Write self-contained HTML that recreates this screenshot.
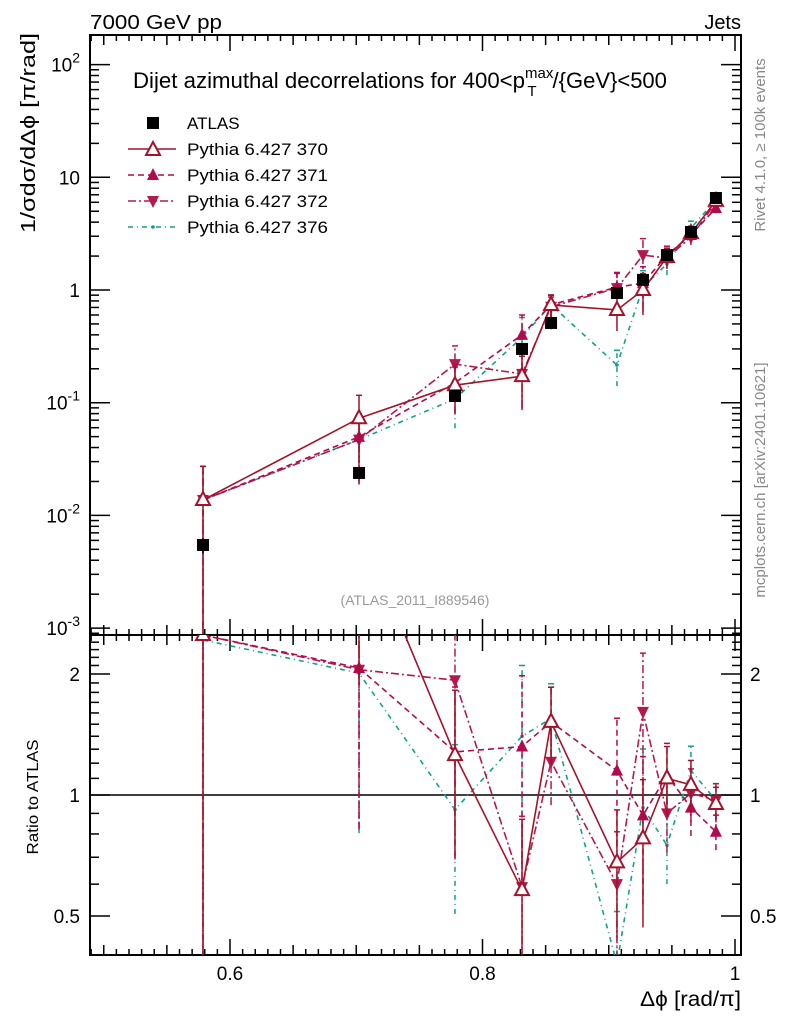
<!DOCTYPE html>
<html><head><meta charset="utf-8"><style>
html,body{margin:0;padding:0;background:#fff;overflow:hidden;width:786px;height:1024px;}
svg{display:block;}
svg text{font-family:"Liberation Sans",sans-serif;}
</style></head><body>
<svg id="c" width="786" height="1024" xmlns="http://www.w3.org/2000/svg">
<text x="90" y="29" font-size="20" textLength="132" lengthAdjust="spacingAndGlyphs">7000 GeV pp</text>
<text x="741" y="29" font-size="20" text-anchor="end">Jets</text>
<text x="133" y="88" font-size="22"><tspan textLength="392" lengthAdjust="spacingAndGlyphs">Dijet azimuthal decorrelations for 400&lt;p</tspan><tspan dy="-10" font-size="15">max</tspan><tspan dx="-26" dy="18" font-size="15">T</tspan><tspan dx="16" dy="-8">/{GeV}&lt;500</tspan></text>
<text transform="translate(765,145) rotate(-90)" font-size="15" fill="#888" text-anchor="middle">Rivet 4.1.0, ≥ 100k events</text>
<text transform="translate(765,480) rotate(-90)" font-size="15" fill="#888" text-anchor="middle">mcplots.cern.ch [arXiv:2401.10621]</text>
<text x="415" y="605" font-size="14" fill="#999" text-anchor="middle">(ATLAS_2011_I889546)</text>
<text transform="translate(35,133) rotate(-90)" font-size="20" text-anchor="middle" textLength="200" lengthAdjust="spacingAndGlyphs">1/σdσ/dΔϕ [π/rad]</text>
<text transform="translate(38,797) rotate(-90)" font-size="16" text-anchor="middle" textLength="115" lengthAdjust="spacingAndGlyphs">Ratio to ATLAS</text>
<text x="741" y="1006" font-size="21" text-anchor="end" textLength="101" lengthAdjust="spacingAndGlyphs">Δϕ [rad/π]</text>
<g id="main"></g>
<g id="ratio"></g>
<g id="legend"></g>
</svg>
<script>
const xs = [0.5786,0.7022,0.7782,0.8313,0.8543,0.9065,0.9271,0.9461,0.9651,0.9849];
const atlas = [0.00546,0.0238,0.1147,0.30,0.51,0.94,1.23,2.04,3.27,6.55];
const atlasErr = [0.15,0.1,0.12,0.1,0.12,0.08,0.08,0.06,0.05,0.04];
const s370 = [0.0137,0.0727,0.143,0.172,0.736,0.665,1.0,1.96,3.2,6.17];
const s371 = [0.0137,0.0498,0.15,0.40,0.74,1.06,1.15,2.04,3.08,5.34];
const s372 = [0.0137,0.047,0.22,0.18,0.71,1.04,2.04,1.92,2.95,6.0];
const s376 = [0.0137,0.047,0.108,0.38,0.74,0.216,1.06,1.70,3.55,6.3];
const errRel = [0.99,0.6,0.45,0.5,0.22,0.35,0.4,0.2,0.15,0.1];
const r370 = [2.5,4.7,1.257,0.58,1.52,0.68,0.78,1.10,1.06,0.95];
const r371 = [2.5,2.07,1.28,1.32,1.52,1.15,0.89,1.12,0.93,0.81];
const r372 = [2.5,2.05,1.93,0.59,1.21,0.60,1.61,0.90,1.01,0.97];
const r376 = [2.43,2.01,0.92,1.40,1.55,0.38,0.93,0.75,1.15,0.97];
const xTickLabels = ["0.6","0.8","1"];
const yTickLabels = ["10^-3","10^-2","10^-1","1","10","10^2"];
const rTickLabels = ["0.5","1","2"];

const NS="http://www.w3.org/2000/svg";
const L=90,R=741,T=35,M=635,B=955;
const X=v=>230+(v-0.6)*1262.5;
const Y=v=>290-Math.log10(v)*112.7;
const RY=v=>795-Math.log2(v)*121;
function mk(p,tag,a){const e=document.createElementNS(NS,tag);for(const k in a)e.setAttribute(k,a[k]);p.appendChild(e);return e;}
const main=document.getElementById('main'),ratio=document.getElementById('ratio'),leg=document.getElementById('legend');
const svg=document.getElementById('c');
const defs=mk(svg,'defs',{});
const c1=mk(defs,'clipPath',{id:'cm'});mk(c1,'rect',{x:L,y:T,width:R-L,height:M-T});
const c2=mk(defs,'clipPath',{id:'cr'});mk(c2,'rect',{x:L,y:M,width:R-L,height:B-M});
let f=mk(main,'rect',{x:L,y:T,width:R-L,height:M-T,fill:'none',stroke:'#000','stroke-width':2});


f=mk(ratio,'rect',{x:L,y:M,width:R-L,height:B-M,fill:'none',stroke:'#000','stroke-width':2});


for(let i=0;i<=52;i++){const v=0.49+i*0.01;if(v>1.004)break;const px=X(v);if(px<L)continue;
 const maj=Math.abs(Math.round(v*20)-v*20)<1e-6;const big=Math.abs(Math.round(v*5)-v*5)<1e-6;
 const len=big?16:(maj?10:6);
 for(const [y0,d] of [[T,1],[M,-1],[M,1],[B,-1]]){mk(main,'line',{x1:px,x2:px,y1:y0,y2:y0+d*len,stroke:'#000','stroke-width':1.5});}}
xTickLabels.forEach(s=>{const t=mk(ratio,'text',{x:X(parseFloat(s)),y:980,'font-size':19,'text-anchor':'middle'});t.textContent=s;
 
 });
for(let d=-4;d<=2;d++){for(let m=1;m<10;m++){const v=m*Math.pow(10,d);const py=Y(v);if(py<T||py>M)continue;const len=m==1?20:9;
 mk(main,'line',{x1:L,x2:L+len,y1:py,y2:py,stroke:'#000','stroke-width':1.5});mk(main,'line',{x1:R,x2:R-len,y1:py,y2:py,stroke:'#000','stroke-width':1.5});}}
yTickLabels.forEach((s,i)=>{const py=Y(Math.pow(10,i-3));const t=mk(main,'text',{x:80,y:py+7,'font-size':19,'text-anchor':'end'});
 
 
 const p=s.split('^');if(p.length==1)t.textContent=s;else{t.textContent='10';const ts=mk(t,'tspan',{dy:-9,'font-size':14});ts.textContent=p[1];}});
for(let v=0.4;v<=2.6;v+=0.1){const py=RY(v);if(py<M||py>B)continue;const big=[0.5,1,2].some(q=>Math.abs(q-v)<1e-6);const len=big?20:9;
 mk(ratio,'line',{x1:L,x2:L+len,y1:py,y2:py,stroke:'#000','stroke-width':1.5});mk(ratio,'line',{x1:R,x2:R-len,y1:py,y2:py,stroke:'#000','stroke-width':1.5});}
rTickLabels.forEach(s=>{const py=RY(parseFloat(s))+7;
 let t=mk(ratio,'text',{x:80,y:py,'font-size':19,'text-anchor':'end'});t.textContent=s;
 
 
 t=mk(ratio,'text',{x:750,y:py,'font-size':19});t.textContent=s;
 
 });
mk(ratio,'line',{x1:L,x2:R,y1:RY(1),y2:RY(1),stroke:'#000','stroke-width':1.5});
function marker(g,type,x,y,col){
 if(type=='sq')return mk(g,'rect',{x:x-6,y:y-6,width:12,height:12,fill:'#000'});
 if(type=='open')return mk(g,'polygon',{points:`${x},${y-8} ${x-7},${y+5} ${x+7},${y+5}`,fill:'#fff',stroke:col,'stroke-width':2});
 if(type=='up')return mk(g,'polygon',{points:`${x},${y-7} ${x-6},${y+5} ${x+6},${y+5}`,fill:col});
 if(type=='down')return mk(g,'polygon',{points:`${x},${y+7} ${x-6},${y-5} ${x+6},${y-5}`,fill:col});
 return mk(g,'circle',{cx:x,cy:y,r:1.8,fill:col});}
const series=[
 {name:'Pythia 6.427 370',v:s370,r:r370,col:'#a3132b',dash:'',mk:'open',key:'370'},
 {name:'Pythia 6.427 371',v:s371,r:r371,col:'#b10a4f',dash:'6,4',mk:'up',key:'371'},
 {name:'Pythia 6.427 372',v:s372,r:r372,col:'#b3194f',dash:'8,3,2,3',mk:'down',key:'372'},
 {name:'Pythia 6.427 376',v:s376,r:r376,col:'#13a08c',dash:'5,4,1,4',mk:'dot',key:'376'}];
const gm=mk(main,'g',{'clip-path':'url(#cm)'}),gr=mk(ratio,'g',{'clip-path':'url(#cr)'});
series.slice().reverse().forEach(s=>{
 [[gm,s.v,Y,'main'],[gr,s.r,RY,'ratio']].forEach(([g,vals,fy,pn])=>{
  const grp=mk(g,'g',{});
  
  
  const pts=vals.map((v,i)=>X(xs[i])+','+fy(v)).join(' ');
  mk(grp,'polyline',{points:pts,fill:'none',stroke:s.col,'stroke-width':1.6,'stroke-dasharray':s.dash});
  vals.forEach((v,i)=>{const e=errRel[i];const lo=Math.max(v*(1-e),1e-5),hi=v*(1+e);const px=X(xs[i]);
   mk(grp,'line',{x1:px,x2:px,y1:fy(lo),y2:fy(hi),stroke:s.col,'stroke-width':1.5,'stroke-dasharray':s.dash});
   mk(grp,'line',{x1:px-3,x2:px+3,y1:fy(hi),y2:fy(hi),stroke:s.col,'stroke-width':1.5});
   const m=marker(grp,s.mk,px,fy(v),s.col);
   
   });
 });});
const ga=mk(gm,'g',{});


atlas.forEach((v,i)=>{const px=X(xs[i]);const e=atlasErr[i];
 mk(ga,'line',{x1:px,x2:px,y1:Y(v*(1-e)),y2:Y(v*(1+e)),stroke:'#000','stroke-width':1.5});
 const m=marker(ga,'sq',px,Y(v),'#000');
 
 });
const le=[{name:'ATLAS',mk:'sq',col:'#000',dash:null}].concat(series);
le.forEach((s,i)=>{const y=123+i*26;const g=mk(leg,'g',{});
 
 
 if(s.dash!==null)mk(g,'line',{x1:128,x2:176,y1:y,y2:y,stroke:s.col,'stroke-width':1.6,'stroke-dasharray':s.dash});
 marker(g,s.mk,153,y+(s.mk=='open'?1:0),s.col);
 const t=mk(g,'text',{x:187,y:y+6,'font-size':17});t.textContent=s.name;
 if(i>0){t.setAttribute('textLength',141);t.setAttribute('lengthAdjust','spacingAndGlyphs');}});
</script>
</body></html>
